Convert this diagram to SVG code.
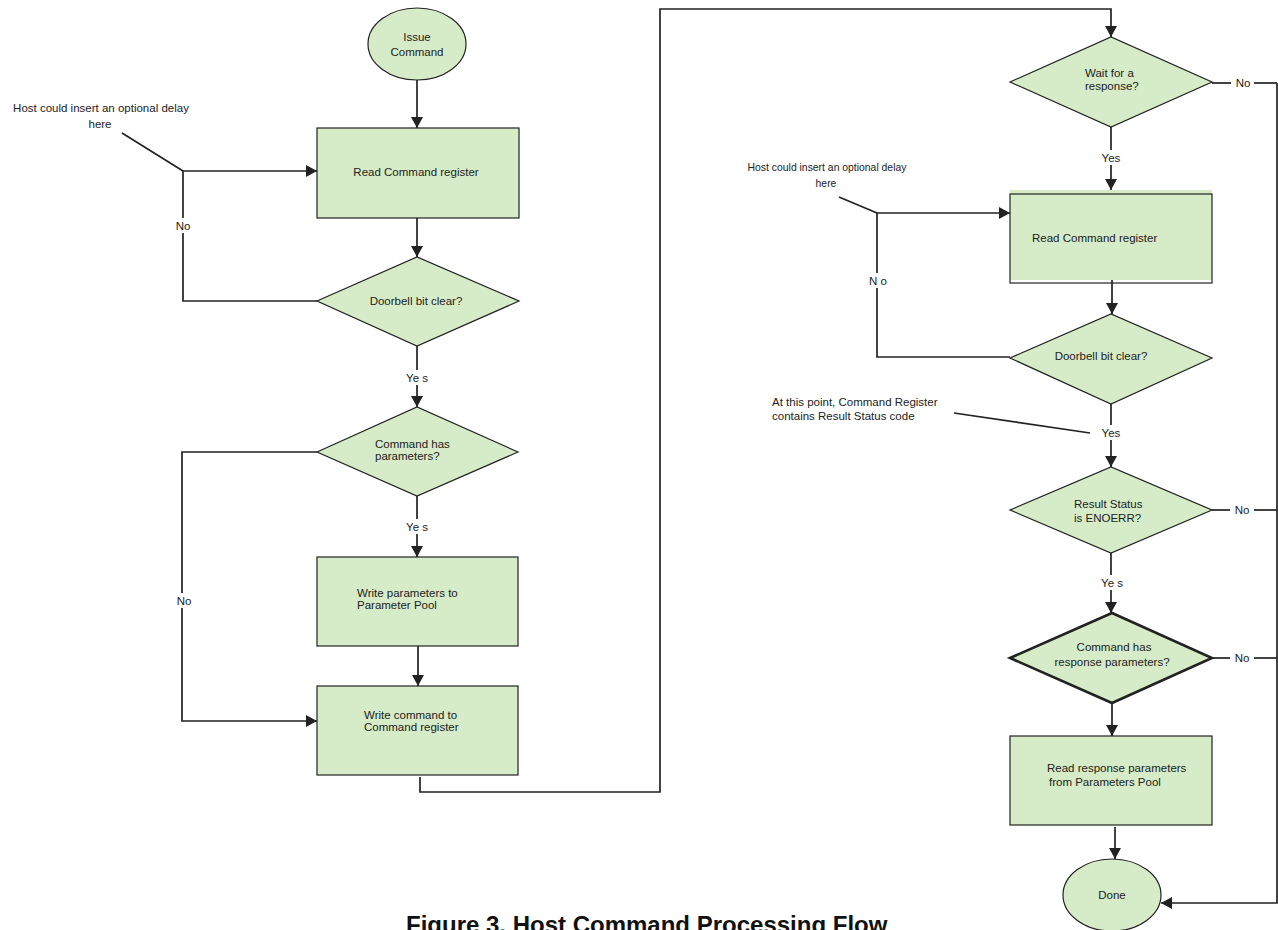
<svg xmlns="http://www.w3.org/2000/svg" width="1278" height="930" viewBox="0 0 1278 930">
<style>
text{font-family:"Liberation Sans",Arial,sans-serif;font-size:11.5px;fill:#222}
.c{text-anchor:middle}
.node{fill:#d6ebc7;stroke:#222;stroke-width:1.2}
.thick{stroke-width:2.6}
.ln{fill:none;stroke:#222;stroke-width:1.7}
.lbg{fill:#fff}
.note{font-size:11.5px}
.note2{font-size:10.4px}
.cap{font-size:24px;font-weight:bold;fill:#111}
</style>
<defs>
<marker id="ah" markerUnits="userSpaceOnUse" markerWidth="12" markerHeight="12" refX="11" refY="6" orient="auto">
<path d="M0,0 L11,6 L0,12 z" fill="#222"/>
</marker>
</defs>
<rect width="1278" height="930" fill="#fff"/>

<g id="connectors">
<line class="ln" x1="417" y1="80" x2="417" y2="128" marker-end="url(#ah)"/>
<line class="ln" x1="417" y1="218" x2="417" y2="257" marker-end="url(#ah)"/>
<polyline class="ln" points="317,301 183,301 183,171 317,171" marker-end="url(#ah)"/>
<line class="ln" x1="122" y1="133" x2="183" y2="171"/>
<line class="ln" x1="417" y1="346" x2="417" y2="407" marker-end="url(#ah)"/>
<line class="ln" x1="417" y1="496" x2="417" y2="557" marker-end="url(#ah)"/>
<polyline class="ln" points="317,452 182,452 182,721 317,721" marker-end="url(#ah)"/>
<line class="ln" x1="418" y1="646" x2="418" y2="686" marker-end="url(#ah)"/>
<polyline class="ln" points="420,777 420,792 660,792 660,9 1111,9 1111,37" marker-end="url(#ah)"/>
<line class="ln" x1="1111" y1="127" x2="1111" y2="190" marker-end="url(#ah)"/>
<line class="ln" x1="839" y1="197" x2="877" y2="213"/>
<polyline class="ln" points="1010,357 877,357 877,213 1010,213" marker-end="url(#ah)"/>
<line class="ln" x1="1112" y1="273" x2="1112" y2="314" marker-end="url(#ah)"/>
<line class="ln" x1="1111" y1="404" x2="1111" y2="467" marker-end="url(#ah)"/>
<line class="ln" x1="954" y1="413" x2="1090" y2="433"/>
<line class="ln" x1="1111" y1="553" x2="1111" y2="613" marker-end="url(#ah)"/>
<line class="ln" x1="1112" y1="703" x2="1112" y2="736" marker-end="url(#ah)"/>
<line class="ln" x1="1115" y1="827" x2="1115" y2="859" marker-end="url(#ah)"/>
<line class="ln" x1="1212" y1="83" x2="1231" y2="83"/>
<line class="ln" x1="1212" y1="510" x2="1230" y2="510"/>
<line class="ln" x1="1212" y1="658" x2="1230" y2="658"/>
<line class="ln" x1="1254" y1="83" x2="1277" y2="83"/>
<line class="ln" x1="1254" y1="510" x2="1277" y2="510"/>
<line class="ln" x1="1254" y1="658" x2="1277" y2="658"/>
<polyline class="ln" points="1277,83 1277,903 1161,903" marker-end="url(#ah)"/>
<rect class="lbg" x="172" y="218" width="22" height="15"/>
<text class="c" x="183" y="230">No</text>
<rect class="lbg" x="172" y="593" width="24" height="15"/>
<text class="c" x="184" y="605">No</text>
<rect class="lbg" x="404" y="370" width="26" height="15"/>
<text class="c" x="417" y="382">Ye s</text>
<rect class="lbg" x="404" y="519" width="26" height="15"/>
<text class="c" x="417" y="531">Ye s</text>
<rect class="lbg" x="1099" y="150" width="24" height="15"/>
<text class="c" x="1111" y="162">Yes</text>
<rect class="lbg" x="866" y="273" width="24" height="15"/>
<text class="c" x="878" y="285">N o</text>
<rect class="lbg" x="1099" y="425" width="24" height="15"/>
<text class="c" x="1111" y="437">Yes</text>
<rect class="lbg" x="1099" y="575" width="26" height="15"/>
<text class="c" x="1112" y="587">Ye s</text>
<text class="c" x="1243" y="87">No</text>
<text class="c" x="1242" y="514">No</text>
<text class="c" x="1242" y="662">No</text>
</g>

<g id="note-left">
<text class="c note" x="101" y="112">Host could insert an optional delay</text>
<text class="c note" x="100" y="128">here</text>
</g>
<g id="note-right">
<text class="c note2" x="827" y="171">Host could insert an optional delay</text>
<text class="c note2" x="826" y="187">here</text>
</g>
<g id="note-status">
<text x="772" y="406">At this point, Command Register</text>
<text x="772" y="420">contains Result Status code</text>
</g>

<g id="issue-command">
<ellipse class="node" cx="417" cy="44" rx="49" ry="36"/>
<text class="c" x="417" y="41">Issue</text>
<text class="c" x="417" y="56">Command</text>
</g>
<g id="read-cmd-1">
<rect class="node" x="317" y="128" width="202" height="90"/>
<text class="c" x="416" y="176">Read Command register</text>
</g>
<g id="doorbell-1">
<polygon class="node" points="317,301 417,257 519,301 417,346"/>
<text class="c" x="416" y="305">Doorbell bit clear?</text>
</g>
<g id="has-params">
<polygon class="node" points="317,452 417,407 518,452 417,496"/>
<text x="375" y="448">Command has</text>
<text x="375" y="460">parameters?</text>
</g>
<g id="write-params">
<rect class="node" x="317" y="557" width="201" height="89"/>
<text x="357" y="597">Write parameters to</text>
<text x="357" y="609">Parameter Pool</text>
</g>
<g id="write-cmd">
<rect class="node" x="317" y="686" width="201" height="89"/>
<text x="364" y="719">Write command to</text>
<text x="364" y="731">Command register</text>
</g>
<g id="wait-response">
<polygon class="node" points="1010,82 1111,37 1212,82 1111,127"/>
<text x="1085" y="77">Wait for a</text>
<text x="1085" y="90">response?</text>
</g>
<g id="read-cmd-2">
<rect x="1010" y="190" width="202" height="90" fill="#d6ebc7"/>
<rect x="1010" y="194" width="202" height="89" fill="none" stroke="#222" stroke-width="1.2"/>
<text x="1032" y="242">Read Command register</text>
</g>
<g id="doorbell-2">
<polygon class="node" points="1010,358 1111,314 1212,358 1111,404"/>
<text class="c" x="1101" y="360">Doorbell bit clear?</text>
</g>
<g id="result-status">
<polygon class="node" points="1010,510 1111,467 1212,510 1111,553"/>
<text x="1074" y="508">Result Status</text>
<text x="1074" y="522">is ENOERR?</text>
</g>
<g id="has-response">
<polygon class="node thick" points="1010,658 1112,613 1212,658 1112,703"/>
<text class="c" x="1114" y="651">Command has</text>
<text class="c" x="1112" y="666">response parameters?</text>
</g>
<g id="read-response">
<rect class="node" x="1010" y="736" width="202" height="89"/>
<text x="1047" y="772">Read response parameters</text>
<text x="1049" y="786">from Parameters Pool</text>
</g>
<g id="done">
<ellipse class="node" cx="1112" cy="895" rx="49" ry="36"/>
<text class="c" x="1112" y="899">Done</text>
</g>
<g id="caption">
<text class="cap" x="406" y="933">Figure 3. Host Command Processing Flow</text>
</g>
</svg>
